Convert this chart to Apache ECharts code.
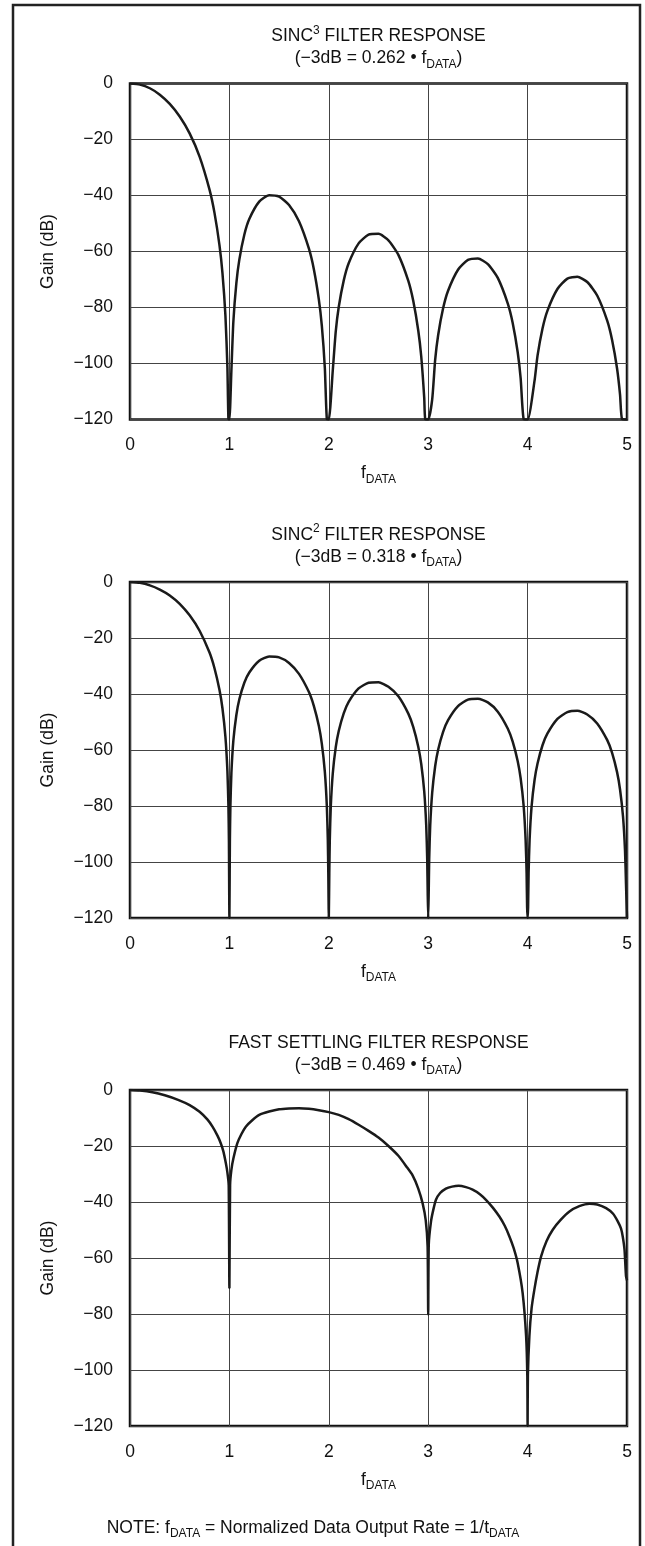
<!DOCTYPE html>
<html>
<head>
<meta charset="utf-8">
<script src="https://cdn.jsdelivr.net/npm/echarts@6/dist/echarts.min.js"></script>
<style>
html,body{margin:0;padding:0;background:#fff;}
#chart{width:645px;height:1546px;}
</style>
</head>
<body>
<div id="chart"></div>
<script>
// ---- DATA ----
const xTicks = [0, 1, 2, 3, 4, 5];
const yTicks = [0, -20, -40, -60, -80, -100, -120];

const titles = ['SINC', 'SINC', 'FAST SETTLING FILTER RESPONSE'];
const titleSup = ['3', '2', ''];
const subtitles = ['(\u22123dB = 0.262 \u2022 f', '(\u22123dB = 0.318 \u2022 f', '(\u22123dB = 0.469 \u2022 f'];

// [f (normalized), gain dB]
const sinc3Response = [
  [0,0],[0.1,-0.4],[0.2,-1.7],[0.3,-4.0],[0.4,-7.3],[0.5,-11.8],[0.6,-17.8],[0.7,-26.1],[0.8,-37.9],[0.85,-46.2],[0.9,-57.7],[0.93,-67.6],[0.96,-82.9],[0.98,-101.4],[0.99,-119.7],[1.0,-120],
  [1.02,-102.5],[1.04,-85.0],[1.07,-71.3],[1.1,-62.9],[1.15,-54.0],[1.2,-48.4],[1.3,-42.2],[1.4,-39.9],[1.5,-40.4],[1.6,-43.4],[1.7,-49.2],[1.8,-59.0],[1.85,-66.4],[1.9,-77.2],[1.93,-86.6],[1.96,-101.5],[1.98,-119.8],[2.0,-120],
  [2.04,-102.5],[2.07,-88.5],[2.1,-79.8],[2.15,-70.4],[2.2,-64.2],[2.3,-57.1],[2.4,-54.0],[2.5,-53.7],[2.6,-56.0],[2.7,-61.2],[2.8,-70.5],[2.85,-77.7],[2.9,-88.2],[2.93,-97.5],[2.96,-112.2],[2.97,-119.8],[3.0,-120],
  [3.04,-112.9],[3.07,-98.7],[3.1,-89.9],[3.15,-80.3],[3.2,-74.0],[3.3,-66.5],[3.4,-63.0],[3.5,-62.5],[3.6,-64.5],[3.7,-69.4],[3.8,-78.5],[3.85,-85.5],[3.9,-95.9],[3.93,-105.2],[3.96,-119.8],[4.0,-120],
  [4.07,-106.1],[4.1,-97.2],[4.15,-87.5],[4.2,-81.1],[4.3,-73.4],[4.4,-69.7],[4.5,-69.0],[4.6,-70.9],[4.7,-75.7],[4.8,-84.6],[4.85,-91.6],[4.9,-101.8],[4.93,-111.1],[4.95,-119.8],[5.0,-120]
];

const sinc2Response = [
  [0,0],[0.1,-0.3],[0.2,-1.2],[0.3,-2.7],[0.4,-4.8],[0.5,-7.8],[0.6,-11.9],[0.7,-17.4],[0.8,-25.2],[0.85,-30.8],[0.9,-38.5],[0.93,-45.1],[0.96,-55.3],[0.98,-67.6],[0.99,-79.8],[0.995,-92.0],[1.0,-120],
  [1.005,-92.1],[1.01,-80.2],[1.02,-68.3],[1.04,-56.6],[1.07,-47.5],[1.1,-41.9],[1.15,-36.0],[1.2,-32.3],[1.3,-28.1],[1.4,-26.6],[1.5,-26.9],[1.6,-28.9],[1.7,-32.8],[1.8,-39.3],[1.85,-44.3],[1.9,-51.4],[1.93,-57.8],[1.96,-67.7],[1.98,-79.8],[1.99,-92.0],[1.995,-104.0],[2.0,-120],
  [2.005,-104.1],[2.01,-92.1],[2.02,-80.2],[2.04,-68.4],[2.07,-59.0],[2.1,-53.2],[2.15,-46.9],[2.2,-42.8],[2.3,-38.0],[2.4,-36.0],[2.5,-35.8],[2.6,-37.4],[2.7,-40.8],[2.8,-47.0],[2.85,-51.8],[2.9,-58.8],[2.93,-65.0],[2.96,-74.8],[2.98,-86.9],[2.99,-99.0],[2.995,-111.1],[3.0,-120],
  [3.005,-111.1],[3.01,-99.1],[3.02,-87.2],[3.04,-75.3],[3.07,-65.8],[3.1,-59.9],[3.15,-53.5],[3.2,-49.3],[3.3,-44.3],[3.4,-42.0],[3.5,-41.7],[3.6,-43.0],[3.7,-46.3],[3.8,-52.3],[3.85,-57.0],[3.9,-63.9],[3.93,-70.1],[3.96,-79.9],[3.98,-92.0],[3.99,-104.0],[3.995,-116.1],[4.0,-120],
  [4.005,-116.2],[4.01,-104.1],[4.02,-92.1],[4.04,-80.2],[4.07,-70.7],[4.1,-64.8],[4.15,-58.3],[4.2,-54.1],[4.3,-48.9],[4.4,-46.5],[4.5,-46.0],[4.6,-47.3],[4.7,-50.5],[4.8,-56.4],[4.85,-61.0],[4.9,-67.9],[4.93,-74.1],[4.96,-83.8],[4.98,-95.9],[4.99,-107.9],[5.0,-120]
];

const fastSettlingResponse = [
  [0,0],[0.1,-0.2],[0.225,-0.8],[0.35,-1.9],[0.49,-3.6],[0.6,-5.4],[0.7,-7.8],[0.78,-10.6],[0.83,-13.1],[0.88,-16.3],[0.913,-19.0],[0.94,-22.0],[0.964,-26.1],[0.98,-29.5],[0.993,-34.0],[1.0,-70.7],
  [1.007,-34.0],[1.02,-28.5],[1.04,-24.5],[1.08,-19.0],[1.12,-15.8],[1.165,-13.1],[1.23,-10.8],[1.3,-8.9],[1.4,-7.7],[1.5,-6.9],[1.6,-6.6],[1.7,-6.5],[1.8,-6.7],[1.9,-7.2],[2.0,-7.9],
  [2.1,-8.9],[2.2,-10.4],[2.3,-12.4],[2.4,-14.6],[2.5,-17.0],[2.6,-20.0],[2.7,-23.5],[2.78,-27.3],[2.843,-30.5],[2.9,-35.2],[2.944,-40.5],[2.975,-46.5],[2.994,-55.9],[3.0,-80.2],
  [3.006,-55.0],[3.028,-47.0],[3.05,-43.0],[3.078,-39.2],[3.12,-36.8],[3.178,-35.2],[3.24,-34.5],[3.306,-34.2],[3.38,-34.7],[3.447,-35.6],[3.52,-37.2],[3.581,-39.2],[3.65,-42.0],[3.716,-45.2],[3.77,-48.5],[3.817,-52.3],[3.86,-56.5],[3.9,-61.8],[3.95,-72.5],[3.985,-87.9],[3.997,-102.0],[4.0,-120],
  [4.003,-102.0],[4.018,-87.9],[4.04,-78.0],[4.068,-71.3],[4.1,-65.0],[4.136,-59.4],[4.19,-54.0],[4.253,-49.9],[4.33,-46.5],[4.421,-43.4],[4.52,-41.5],[4.622,-40.6],[4.7,-40.9],[4.79,-42.2],[4.86,-44.2],[4.907,-46.9],[4.94,-49.5],[4.957,-52.3],[4.975,-57.0],[4.99,-66.5],[5.0,-68.0]
];

// ---- LAYOUT ----
const FONT = '"Liberation Sans", Arial, Helvetica, sans-serif';
const TXT = '#111';
const FS = 17.5, FSS = 12;
const plotLeft = 130, plotRight = 18, plotH = 336;
const plotTops = [83.5, 582, 1090];
const plotCenter = 130 + (645 - 130 - plotRight) / 2;
const seriesData = [sinc3Response, sinc2Response, fastSettlingResponse];

const chart = echarts.init(document.getElementById('chart'), null, {renderer: 'canvas'});

const fmtY = v => (v < 0 ? '\u2212' + (-v) : String(v));
const richMain = {fontFamily: FONT, fontSize: FS, color: TXT, fill: TXT, lineHeight: 24, verticalAlign: 'middle'};
const richSub = {fontFamily: FONT, fontSize: FSS, color: TXT, fill: TXT, lineHeight: 12, verticalAlign: 'bottom'};
const richSup = {fontFamily: FONT, fontSize: FSS, color: TXT, fill: TXT, lineHeight: 20, verticalAlign: 'top'};

const grids = [], xAxes = [], yAxes = [], series = [], graphics = [];
plotTops.forEach((top, i) => {
  grids.push({left: plotLeft, right: plotRight, top: top, height: plotH, show: true,
    borderColor: '#111', borderWidth: 2.5, backgroundColor: 'transparent', containLabel: false});
  xAxes.push({type: 'value', gridIndex: i, min: xTicks[0], max: xTicks[xTicks.length - 1], interval: 1,
    axisLine: {show: false}, axisTick: {show: false},
    splitLine: {show: true, lineStyle: {color: '#444', width: 1}},
    axisLabel: {margin: 17, fontFamily: FONT, fontSize: FS, color: TXT,
      formatter: v => (xTicks.indexOf(v) >= 0 ? String(v) : '')},
    name: '{f|f}{s|DATA}', nameLocation: 'middle', nameGap: 42,
    nameTextStyle: {rich: {f: richMain, s: richSub}}
  });
  yAxes.push({type: 'value', gridIndex: i, min: yTicks[yTicks.length - 1], max: yTicks[0], interval: 20,
    axisLine: {show: false}, axisTick: {show: false},
    splitLine: {show: true, lineStyle: {color: '#444', width: 1}},
    axisLabel: {margin: 17, fontFamily: FONT, fontSize: FS, color: TXT,
      formatter: v => (yTicks.indexOf(v) >= 0 ? fmtY(v) : '')},
    name: 'Gain (dB)', nameLocation: 'middle', nameGap: 73, nameRotate: 90,
    nameTextStyle: {fontFamily: FONT, fontSize: FS, color: TXT}
  });
  series.push({type: 'line', xAxisIndex: i, yAxisIndex: i, data: seriesData[i],
    showSymbol: false, smooth: 0.2, clip: true,
    lineStyle: {color: '#1a1a1a', width: 2.5}, z: 5});

  const titleText = titleSup[i] ? '{m|' + titles[i] + '}{p|' + titleSup[i] + '}{m| FILTER RESPONSE}' : '{m|' + titles[i] + '}';
  graphics.push({type: 'text', x: plotCenter, y: top - 47,
    style: {text: titleText, textAlign: 'center', textVerticalAlign: 'middle', fill: TXT,
      rich: {m: richMain, p: richSup}}});
  graphics.push({type: 'text', x: plotCenter, y: top - 25,
    style: {text: '{m|' + subtitles[i] + '}{s|DATA}{m|)}', textAlign: 'center', textVerticalAlign: 'middle', fill: TXT,
      rich: {m: richMain, s: richSub}}});
});

graphics.push({type: 'text', x: 313, y: 1528,
  style: {text: '{m|NOTE: f}{s|DATA}{m| = Normalized Data Output Rate = 1/t}{s|DATA}', textAlign: 'center', textVerticalAlign: 'middle', fill: TXT,
    rich: {m: richMain, s: richSub}}});
graphics.push({type: 'rect', shape: {x: 13, y: 5, width: 627, height: 1570}, z: 0,
  style: {fill: 'none', stroke: '#222', lineWidth: 2.5}});

chart.setOption({
  animation: false,
  backgroundColor: '#fff',
  grid: grids, xAxis: xAxes, yAxis: yAxes, series: series,
  graphic: graphics
});
</script>
</body>
</html>
